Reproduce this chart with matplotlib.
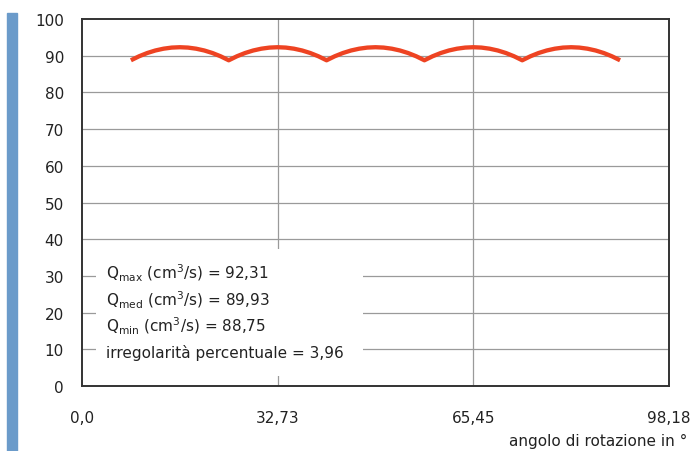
import numpy as np
import matplotlib
matplotlib.use("Agg")
import matplotlib.pyplot as plt
from matplotlib.patches import Rectangle

plt.rcParams["font.family"] = ["DejaVu Sans"]
plt.rcParams["mathtext.fontset"] = "dejavusans"

# Flow rate over rotation angle (five delivery lobes)
angle_start = 8.18
angle_step = 1.3636
flow = [
    88.75, 89.84, 90.73, 91.42, 91.91, 92.21, 92.31, 92.21, 91.91, 91.42, 90.73, 89.84,
    88.75, 89.84, 90.73, 91.42, 91.91, 92.21, 92.31, 92.21, 91.91, 91.42, 90.73, 89.84,
    88.75, 89.84, 90.73, 91.42, 91.91, 92.21, 92.31, 92.21, 91.91, 91.42, 90.73, 89.84,
    88.75, 89.84, 90.73, 91.42, 91.91, 92.21, 92.31, 92.21, 91.91, 91.42, 90.73, 89.84,
    88.75, 89.84, 90.73, 91.42, 91.91, 92.21, 92.31, 92.21, 91.91, 91.42, 90.73, 89.84,
    88.75,
]
angles = angle_start + angle_step * np.arange(len(flow))

x_ticks = [0.0, 32.73, 65.45, 98.18]
x_labels = ["0,0", "32,73", "65,45", "98,18"]
y_ticks = [0, 10, 20, 30, 40, 50, 60, 70, 80, 90, 100]

q_max = "92,31"
q_med = "89,93"
q_min = "88,75"
irregularity = "3,96"

fig = plt.figure(figsize=(6.91, 4.52), dpi=100)
ax = fig.add_axes([82 / 691, 65 / 452, 587 / 691, 367 / 452])

# side accent bar
fig.patches.append(Rectangle((7 / 691, 0), 10 / 691, 438 / 452,
                             transform=fig.transFigure, color="#6b9bca", zorder=0))

ax.set_xlim(0, 98.18)
ax.set_ylim(0, 100)

for y in y_ticks[1:-1]:
    ax.axhline(y, color="#9a9a9a", lw=0.9, zorder=1)
for x in x_ticks[1:-1]:
    ax.axvline(x, color="#9a9a9a", lw=0.9, zorder=1)

ax.plot(angles, flow, color="#ee4322", lw=3.1, solid_capstyle="butt",
        solid_joinstyle="round", zorder=3)

# white panel behind the summary text
ax.add_patch(Rectangle((2.34, 2.7), 44.6, 34.6, facecolor="white",
                       edgecolor="none", zorder=2))

lines = [
    r"$\mathrm{Q}_{\mathrm{max}}$ (cm$^{3}$/s) = " + q_max,
    r"$\mathrm{Q}_{\mathrm{med}}$ (cm$^{3}$/s) = " + q_med,
    r"$\mathrm{Q}_{\mathrm{min}}$ (cm$^{3}$/s) = " + q_min,
    "irregolarità percentuale = " + irregularity,
]
ys = [31.0, 23.7, 16.5, 9.2]
for t, y in zip(lines, ys):
    ax.text(4.0, y, t, fontsize=11, color="#222222", va="center", ha="left", zorder=4)

ax.set_yticks(y_ticks)
ax.set_yticklabels([str(v) for v in y_ticks])
ax.set_xticks(x_ticks)
ax.set_xticklabels(x_labels)
ax.tick_params(axis="both", length=0, labelsize=11, labelcolor="#222222")
ax.tick_params(axis="y", pad=13)
ax.tick_params(axis="x", pad=17)

for s in ax.spines.values():
    s.set_color("#333333")
    s.set_linewidth(1.4)
    s.set_zorder(5)

fig.text(687 / 691, 1 - 441 / 452, "angolo di rotazione in °", fontsize=11,
         color="#222222", ha="right", va="center")

fig.savefig("out.png", dpi=100)
